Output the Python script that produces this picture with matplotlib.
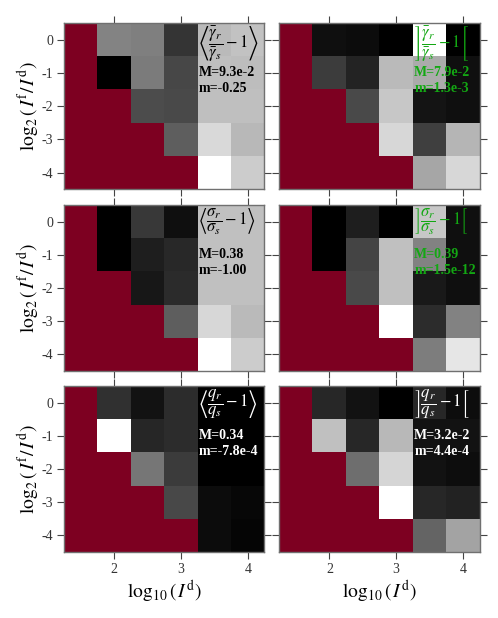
import numpy as np
import matplotlib
matplotlib.use('Agg')
import matplotlib.pyplot as plt

plt.rcParams['font.family'] = ['Liberation Serif', 'DejaVu Serif']
plt.rcParams['mathtext.fontset'] = 'stix'
plt.rcParams['axes.unicode_minus'] = False

nan = np.nan

# cell centres
log10_Id = [1.5, 2.0, 2.5, 3.0, 3.5, 4.0]
log2_ratio = [0, -1, -2, -3, -4]

# <gamma_r/gamma_s - 1>
gamma_mean = [
    [nan, -0.072, -0.079, -0.178, 0.000, 0.011],
    [nan, -0.250, -0.085, -0.154, 0.007, 0.004],
    [nan, nan, -0.147, -0.151, 0.007, 0.007],
    [nan, nan, nan, -0.123, 0.042, -0.003],
    [nan, nan, nan, nan, 0.093, 0.024],
]
# ]gamma_r/gamma_s - 1[
gamma_std = [
    [nan, 0.0060, 0.0052, 0.0013, 0.0790, 0.0013],
    [nan, 0.0199, 0.0122, 0.0580, 0.0534, 0.0060],
    [nan, nan, 0.0238, 0.0619, 0.0075, 0.0060],
    [nan, nan, nan, 0.0666, 0.0207, 0.0565],
    [nan, nan, nan, nan, 0.0518, 0.0666],
]
sigma_mean = [
    [nan, -1.000, -0.696, -0.917, 0.035, 0.035],
    [nan, -1.000, -0.834, -0.779, 0.035, 0.035],
    [nan, nan, -0.876, -0.765, 0.035, 0.035],
    [nan, nan, nan, -0.489, 0.159, 0.007],
    [nan, nan, nan, nan, 0.380, 0.104],
]
sigma_std = [
    [nan, 0.000, 0.047, 0.000, 0.304, 0.023],
    [nan, 0.000, 0.105, 0.293, 0.199, 0.023],
    [nan, nan, 0.113, 0.293, 0.039, 0.023],
    [nan, nan, nan, 0.390, 0.070, 0.199],
    [nan, nan, nan, nan, 0.191, 0.351],
]
q_mean = [
    [nan, 0.0674, 0.0265, 0.0606, 0.0026, 0.0026],
    [nan, 0.3400, 0.0537, 0.0606, 0.0026, 0.0026],
    [nan, nan, 0.1594, 0.0810, 0.0026, 0.0026],
    [nan, nan, nan, 0.0980, 0.0197, 0.0128],
    [nan, nan, nan, nan, 0.0197, 0.0094],
]
q_std = [
    [nan, 0.0061, 0.0036, 0.0014, 0.0061, 0.0030],
    [nan, 0.0244, 0.0061, 0.0235, 0.0036, 0.0036],
    [nan, nan, 0.0146, 0.0269, 0.0036, 0.0030],
    [nan, nan, nan, 0.0320, 0.0061, 0.0055],
    [nan, nan, nan, nan, 0.0134, 0.0210],
]

panels = [
    (gamma_mean, r'$\left\langle\dfrac{\bar{\gamma}_r}{\bar{\gamma}_s}-1\right\rangle$', 'M=9.3e-2', 'm=-0.25', 'black'),
    (gamma_std, r'$\left]\dfrac{\bar{\gamma}_r}{\bar{\gamma}_s}-1\right[$', 'M=7.9e-2', 'm=1.3e-3', '#13a813'),
    (sigma_mean, r'$\left\langle\dfrac{\sigma_r}{\sigma_s}-1\right\rangle$', 'M=0.38', 'm=-1.00', 'black'),
    (sigma_std, r'$\left]\dfrac{\sigma_r}{\sigma_s}-1\right[$', 'M=0.39', 'm=1.5e-12', '#13a813'),
    (q_mean, r'$\left\langle\dfrac{q_r}{q_s}-1\right\rangle$', 'M=0.34', 'm=-7.8e-4', 'white'),
    (q_std, r'$\left]\dfrac{q_r}{q_s}-1\right[$', 'M=3.2e-2', 'm=4.4e-4', 'white'),
]

cmap = plt.get_cmap('gray').copy()
cmap.set_bad('#7d0021')

fig = plt.figure(figsize=(4.98, 6.18), dpi=100)
lefts = [0.129, 0.561]
bottoms = [0.694, 0.3997, 0.1068]
w, h = 0.402, 0.2686

x = np.array(log10_Id)
y = np.array(log2_ratio)
dx = (x[1] - x[0]) / 2
dy = abs(y[1] - y[0]) / 2
extent = [x[0] - dx, x[-1] + dx, y[-1] - dy, y[0] + dy]

for k, (vals, formula, mtxt, mintxt, tcol) in enumerate(panels):
    r, c = divmod(k, 2)
    ax = fig.add_axes([lefts[c], bottoms[r], w, h])
    data = np.ma.masked_invalid(np.array(vals))
    ax.imshow(data, cmap=cmap, extent=extent, aspect='auto', origin='upper',
              interpolation='nearest', vmin=np.nanmin(vals), vmax=np.nanmax(vals))
    ax.set_xlim(extent[0], extent[1])
    ax.set_ylim(extent[2], extent[3])
    ax.set_xticks([2, 3, 4])
    ax.set_yticks(log2_ratio)
    ax.tick_params(direction='out', top=True, right=True, length=5, width=0.8,
                   color='#444444', labelsize=10, labelcolor='#333333', pad=3)
    for s in ax.spines.values():
        s.set_color('#707070')
        s.set_linewidth(1.0)
    if c == 1:
        ax.set_yticklabels([])
    else:
        ax.set_ylabel(r'$\log_2(\,I^{\mathrm{f}}/\,I^{\mathrm{d}})$', fontsize=14, labelpad=0)
    if r < 2:
        ax.set_xticklabels([])
    else:
        ax.set_xlabel(r'$\log_{10}(\,I^{\mathrm{d}})$', fontsize=14, labelpad=2)
    ax.text(3.26, 0.45, formula, color=tcol, fontsize=12, va='top', ha='left')
    ax.text(3.27, -1.0, mtxt, color=tcol, fontsize=10, fontweight='bold', va='center', ha='left')
    ax.text(3.27, -1.48, mintxt, color=tcol, fontsize=10, fontweight='bold', va='center', ha='left')

fig.savefig('out.png', dpi=100)
